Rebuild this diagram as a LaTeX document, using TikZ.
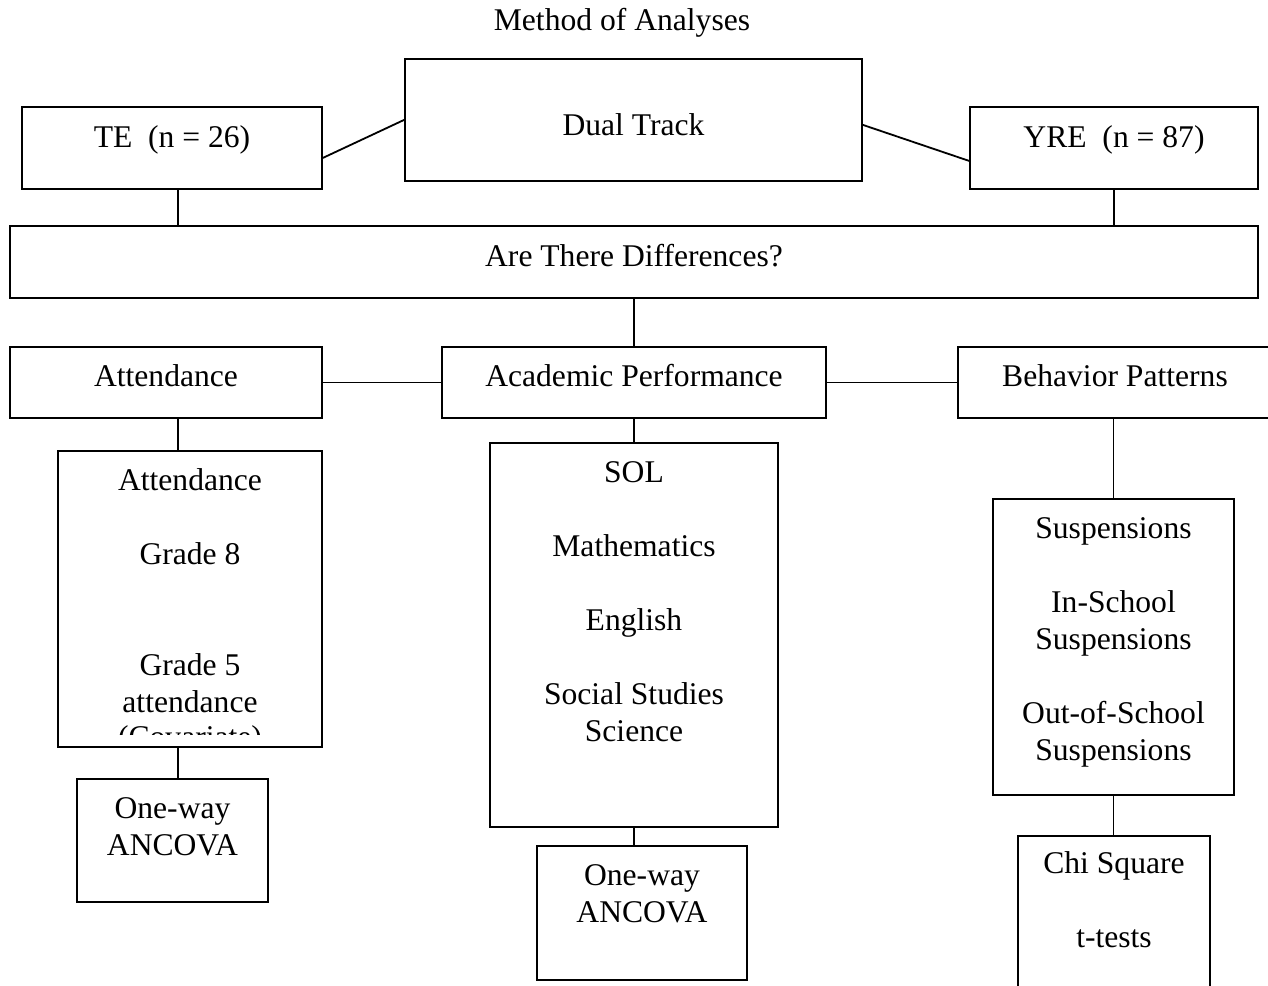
\documentclass[tikz,border=0pt]{standalone}
\usepackage{fontspec}
\setmainfont{Liberation Serif}
\usepackage{tikz}

\begin{document}
\begin{tikzpicture}[
        x=0.5pt, y=-0.5pt,
        every node/.style={font=\fontsize{15.8}{18.5}\selectfont},
        tbox/.style={draw, line width=0.9pt, anchor=north, align=flush center, inner xsep=0pt, inner ysep=0pt},
        link/.style={line width=0.9pt}]

        \useasboundingbox (0,0) rectangle (1268,985);
        \clip (0,0) rectangle (1268,985);

        % --- Title and groups ---
        \node[anchor=base] (title) at (622,31) {Method of Analyses};
        \node[tbox, minimum width=228.5pt, text height=38.5pt, text depth=22.5pt] (dual) at (633.5,58) {Dual Track};
        \node[tbox, minimum width=150pt, text height=20.5pt, text depth=20.5pt] (te) at (172,106) {TE~~(n = 26)};
        \node[tbox, minimum width=144pt, text height=20.5pt, text depth=20.5pt] (yre) at (1114,106) {YRE~~(n = 87)};
        \draw[link] ([yshift=-5pt]te.east) -- (dual.west);
        \draw[link] ([yshift=-2.5pt]dual.east) -- ([yshift=-6.5pt]yre.west);

        % --- Question ---
        \node[tbox, minimum width=624pt, text height=20.5pt, text depth=15.5pt] (diff) at (634,225) {Are There Differences?};
        \draw[link] ([xshift=3pt]te.south) -- ([xshift=3pt]te.south |- diff.north);
        \draw[link] (yre.south) -- (yre.south |- diff.north);

        % --- Areas ---
        \node[tbox, minimum width=156pt, text height=20pt, text depth=15.5pt] (att) at (166,346) {Attendance};
        \node[tbox, minimum width=192pt, text height=20pt, text depth=15.5pt] (acad) at (634,346) {Academic Performance};
        \node[tbox, minimum width=157pt, text height=20pt, text depth=15.5pt] (behav) at (1115,346) {Behavior Patterns};
        \draw[link] (diff.south -| acad.north) -- (acad.north);
        \draw[link] (att.east) -- (acad.west);
        \draw[link] (acad.east) -- (behav.west);

        % --- Measures ---
        \node[tbox, text width=132pt, text height=20pt, text depth=128pt] (attd) at (190,450)
            {Attendance\\[18.5pt]Grade 8\\[37pt]Grade 5\\attendance};
        \begin{scope}
            \clip (attd.north west) rectangle ([yshift=6.5pt]attd.south east);
            \node[anchor=base] (cov) at (190,747) {(Covariate)};
        \end{scope}
        \node[tbox, text width=144pt, text height=20pt, text depth=172pt] (sol) at (634,442)
            {SOL\\[18.5pt]Mathematics\\[18.5pt]English\\[18.5pt]Social Studies\\Science};
        \node[tbox, text width=120.5pt, text height=20pt, text depth=128pt] (susp) at (1113.5,498)
            {Suspensions\\[18.5pt]In-School\\Suspensions\\[18.5pt]Out-of-School\\Suspensions};
        \draw[link] ([xshift=6pt]att.south) -- ([xshift=6pt]att.south |- attd.north);
        \draw[link] (acad.south) -- (sol.north);
        \draw[link] (susp.north |- behav.south) -- (susp.north);

        % --- Tests ---
        \node[tbox, text width=95.5pt, text height=20pt, text depth=41.5pt] (anc1) at (172.5,778) {One-way\\ANCOVA};
        \node[tbox, text width=105pt, text height=20pt, text depth=47pt] (anc2) at (642,845) {One-way\\ANCOVA};
        \node[tbox, text width=96pt, text height=19pt, text depth=63.5pt] (chi) at (1114,835) {Chi Square\\[18.5pt]t-tests};
        \draw[link] ([xshift=-6pt]attd.south) -- ([xshift=-6pt]attd.south |- anc1.north);
        \draw[link] (sol.south) -- (sol.south |- anc2.north);
        \draw[link] (susp.south) -- (susp.south |- chi.north);

    \end{tikzpicture}
\end{document}
